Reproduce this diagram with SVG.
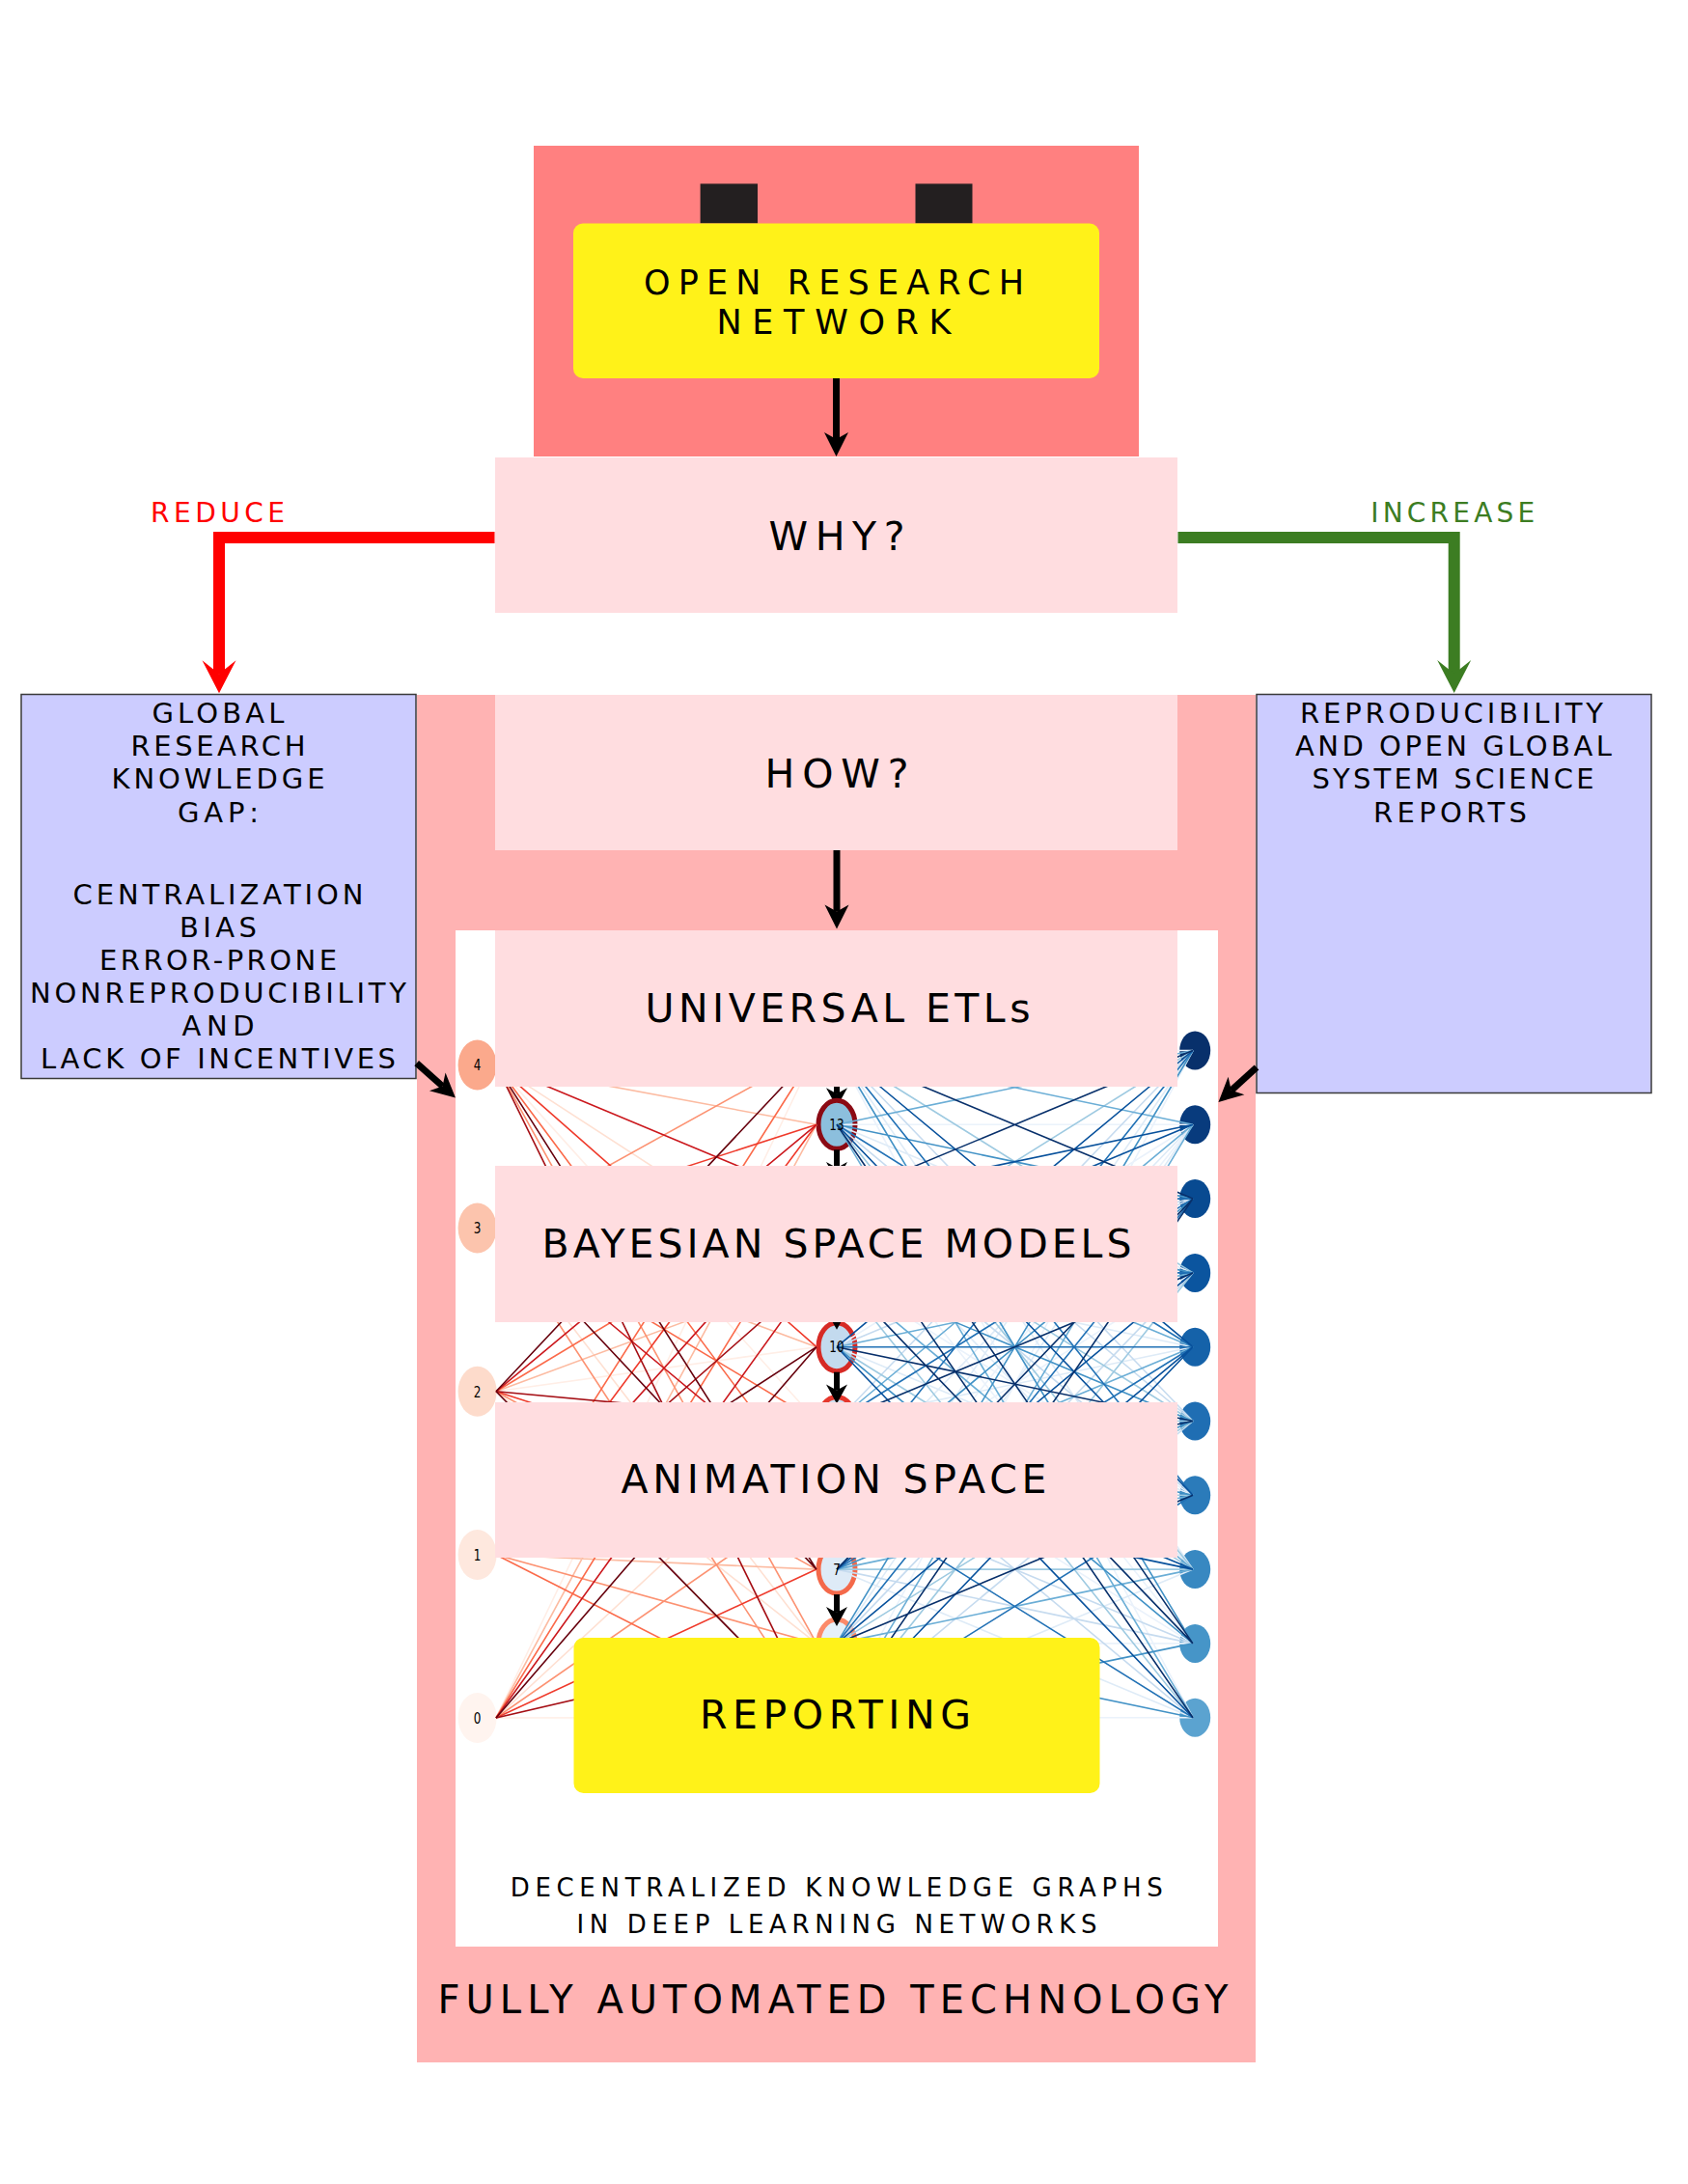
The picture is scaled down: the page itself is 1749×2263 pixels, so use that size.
<svg xmlns="http://www.w3.org/2000/svg" width="1749" height="2263" viewBox="0 0 1749 2263">
<style>
.t{font-family:"DejaVu Sans","Liberation Sans",sans-serif;fill:#000;text-anchor:middle}
.b41{font-size:41px}
.b29{font-size:29px}
.b26{font-size:26px}
.lbl{font-size:12px}
.pinkbox{fill:#FFDDE0}
.yellow{fill:#FFF219}
.bluebox{fill:#CCCCFF;stroke:#3a3a3a;stroke-width:1.5}
.arr{fill:none;stroke:#000;stroke-width:7}
.chain{fill:none;stroke:#000;stroke-width:6}
.e{fill:none;stroke-width:1.6}
</style>
<defs>
<marker id="ahBlack" markerUnits="userSpaceOnUse" markerWidth="40" markerHeight="40" viewBox="-20 -20 40 40" refX="0" refY="0" orient="auto" overflow="visible"><path d="M-7,-12.5 L18,0 L-7,12.5 L0,0 Z" fill="#000"/></marker>
<marker id="ahSmall" markerUnits="userSpaceOnUse" markerWidth="40" markerHeight="40" viewBox="-20 -20 40 40" refX="0" refY="0" orient="auto" overflow="visible"><path d="M-6,-11 L14,0 L-6,11 L0,0 Z" fill="#000"/></marker>
<marker id="ahRed" markerUnits="userSpaceOnUse" markerWidth="50" markerHeight="50" viewBox="-25 -25 50 50" refX="0" refY="0" orient="auto" overflow="visible"><path d="M-14,-17.5 L20,0 L-14,17.5 L0,0 Z" fill="#FF0000"/></marker>
<marker id="ahGreen" markerUnits="userSpaceOnUse" markerWidth="50" markerHeight="50" viewBox="-25 -25 50 50" refX="0" refY="0" orient="auto" overflow="visible"><path d="M-14,-17.5 L20,0 L-14,17.5 L0,0 Z" fill="#3C7D22"/></marker>
</defs>
<rect x="0" y="0" width="1749" height="2263" fill="#fff"/>

<g id="open-research-network">
<rect x="553" y="151" width="627" height="322" fill="#FF8080"/>
<rect x="725.6" y="190.4" width="59.4" height="41" fill="#231F20"/>
<rect x="948.5" y="190.4" width="59" height="41" fill="#231F20"/>
<rect x="594" y="231.5" width="545" height="160.5" rx="10" class="yellow"/>
<text class="t" style="font-size:35px" x="864" y="304.5" textLength="394" lengthAdjust="spacing">OPEN RESEARCH</text>
<text class="t" style="font-size:35px" x="864" y="346" textLength="243" lengthAdjust="spacing">NETWORK</text>
</g>

<g id="why">
<rect x="513" y="474" width="707" height="161" class="pinkbox"/>
<text class="t b41" x="867" y="569.5" textLength="141" lengthAdjust="spacing">WHY?</text>
</g>

<g id="fully-automated-technology">
<rect x="432" y="720" width="869" height="1417" fill="#FFB3B3"/>
<rect x="472" y="964" width="790" height="1053" fill="#fff"/>
<text class="t" style="font-size:40px" x="863" y="2086" textLength="819" lengthAdjust="spacing">FULLY AUTOMATED TECHNOLOGY</text>
</g>

<g id="how">
<rect x="513" y="720" width="707" height="161" class="pinkbox"/>
<text class="t b41" x="867" y="815.5" textLength="149" lengthAdjust="spacing">HOW?</text>
</g>

<g id="network">
<path class="chain" marker-end="url(#ahSmall)" d="M867 1114.5V1133.3"/>
<g id="network-nodes">
<ellipse cx="494.6" cy="1780" rx="20" ry="26" fill="#FFF4EF"/>
<ellipse cx="494.6" cy="1611" rx="20" ry="26" fill="#FEE8DE"/>
<ellipse cx="494.6" cy="1441.8" rx="20" ry="26" fill="#FDDBCB"/>
<ellipse cx="494.6" cy="1272.5" rx="20" ry="26" fill="#FCC4AD"/>
<ellipse cx="494.6" cy="1103.6" rx="20" ry="26" fill="#FBA98C"/>
<g stroke-width="5">
<ellipse cx="867" cy="1779.7" rx="19" ry="25" fill="#EDF4FB" stroke="#FCA487"/>
<ellipse cx="867" cy="1702.9" rx="19" ry="25" fill="#E6F0F9" stroke="#FC8A6A"/>
<ellipse cx="867" cy="1626.1" rx="19" ry="25" fill="#DEEBF7" stroke="#F4694A"/>
<ellipse cx="867" cy="1549.3" rx="19" ry="25" fill="#D6E5F4" stroke="#F0502F"/>
<ellipse cx="867" cy="1472.5" rx="19" ry="25" fill="#CDE0F1" stroke="#E6372C"/>
<ellipse cx="867" cy="1395.7" rx="19" ry="25" fill="#C3DAEE" stroke="#D62A25"/>
<ellipse cx="867" cy="1318.9" rx="19" ry="25" fill="#B0D2E8" stroke="#C4161C"/>
<ellipse cx="867" cy="1242.1" rx="19" ry="25" fill="#A0CBE2" stroke="#A91016"/>
<ellipse cx="867" cy="1165.3" rx="19" ry="25" fill="#8CBFDD" stroke="#8B0A14"/>
<ellipse cx="867" cy="1088.5" rx="19" ry="25" fill="#7FB9DA" stroke="#67000D"/>
</g>
<ellipse cx="1238.2" cy="1088.5" rx="16" ry="20" fill="#08306B"/>
<ellipse cx="1238.2" cy="1165.3" rx="16" ry="20" fill="#083B7D"/>
<ellipse cx="1238.2" cy="1242.1" rx="16" ry="20" fill="#084A91"/>
<ellipse cx="1238.2" cy="1318.9" rx="16" ry="20" fill="#0B559F"/>
<ellipse cx="1238.2" cy="1395.7" rx="16" ry="20" fill="#1562A9"/>
<ellipse cx="1238.2" cy="1472.5" rx="16" ry="20" fill="#1F6EB3"/>
<ellipse cx="1238.2" cy="1549.3" rx="16" ry="20" fill="#2B7BBA"/>
<ellipse cx="1238.2" cy="1626.1" rx="16" ry="20" fill="#3888C1"/>
<ellipse cx="1238.2" cy="1702.9" rx="16" ry="20" fill="#4695C8"/>
<ellipse cx="1238.2" cy="1779.7" rx="16" ry="20" fill="#5BA3D0"/>
</g>
<g id="network-edges">
<path class="e" stroke="#FFEEE6" d="M514 1780L846 1779.7M514 1780L846 1088.5M514 1611L846 1472.5M514 1441.8L846 1395.7M514 1272.5L846 1318.9M514 1103.6L846 1472.5"/>
<path class="e" stroke="#FEE0D2" d="M514 1780L846 1472.5M514 1611L846 1549.3M514 1441.8L846 1702.9M514 1272.5L846 1702.9M514 1103.6L846 1318.9"/>
<path class="e" stroke="#FCBBA1" d="M514 1780L846 1165.3M514 1611L846 1626.1M514 1441.8L846 1318.9M514 1272.5L846 1395.7M514 1103.6L846 1165.3"/>
<path class="e" stroke="#FC9272" d="M514 1780L846 1549.3M514 1611L846 1702.9M514 1441.8L846 1626.1M514 1272.5L846 1779.7M514 1272.5L846 1088.5M514 1103.6L846 1702.9"/>
<path class="e" stroke="#FB6A4A" d="M514 1780L846 1242.1M514 1611L846 1779.7M514 1611L846 1088.5M514 1441.8L846 1242.1M514 1272.5L846 1472.5M514 1103.6L846 1549.3"/>
<path class="e" stroke="#EF3B2C" d="M514 1780L846 1626.1M514 1611L846 1165.3M514 1441.8L846 1549.3M514 1272.5L846 1165.3M514 1103.6L846 1395.7"/>
<path class="e" stroke="#CB181D" d="M514 1780L846 1318.9M514 1611L846 1242.1M514 1441.8L846 1165.3M514 1272.5L846 1549.3M514 1103.6L846 1242.1"/>
<path class="e" stroke="#A50F15" d="M514 1780L846 1702.9M514 1611L846 1318.9M514 1441.8L846 1472.5M514 1272.5L846 1242.1M514 1103.6L846 1779.7M514 1103.6L846 1088.5"/>
<path class="e" stroke="#67000D" d="M514 1780L846 1395.7M514 1611L846 1395.7M514 1441.8L846 1779.7M514 1441.8L846 1088.5M514 1272.5L846 1626.1M514 1103.6L846 1626.1"/>
<path class="e" stroke="#EAF2FB" d="M867 1779.7L1236 1088.5M867 1779.7L1236 1779.7M867 1702.9L1236 1702.9M867 1626.1L1236 1165.3M867 1549.3L1236 1318.9M867 1472.5L1236 1702.9M867 1395.7L1236 1165.3M867 1318.9L1236 1549.3M867 1242.1L1236 1702.9M867 1165.3L1236 1165.3M867 1088.5L1236 1088.5M867 1088.5L1236 1779.7"/>
<path class="e" stroke="#DEEBF7" d="M867 1779.7L1236 1626.1M867 1702.9L1236 1165.3M867 1626.1L1236 1088.5M867 1626.1L1236 1779.7M867 1549.3L1236 1165.3M867 1472.5L1236 1395.7M867 1395.7L1236 1549.3M867 1318.9L1236 1395.7M867 1242.1L1236 1626.1M867 1165.3L1236 1318.9M867 1088.5L1236 1626.1"/>
<path class="e" stroke="#C6DBEF" d="M867 1779.7L1236 1472.5M867 1702.9L1236 1318.9M867 1626.1L1236 1702.9M867 1549.3L1236 1702.9M867 1472.5L1236 1088.5M867 1472.5L1236 1779.7M867 1395.7L1236 1242.1M867 1318.9L1236 1242.1M867 1242.1L1236 1549.3M867 1165.3L1236 1472.5M867 1088.5L1236 1472.5"/>
<path class="e" stroke="#9ECAE1" d="M867 1779.7L1236 1318.9M867 1702.9L1236 1472.5M867 1626.1L1236 1626.1M867 1549.3L1236 1549.3M867 1472.5L1236 1472.5M867 1395.7L1236 1626.1M867 1318.9L1236 1088.5M867 1318.9L1236 1779.7M867 1242.1L1236 1472.5M867 1165.3L1236 1626.1M867 1088.5L1236 1318.9"/>
<path class="e" stroke="#6BAED6" d="M867 1779.7L1236 1165.3M867 1702.9L1236 1626.1M867 1626.1L1236 1549.3M867 1549.3L1236 1395.7M867 1472.5L1236 1165.3M867 1395.7L1236 1318.9M867 1318.9L1236 1626.1M867 1242.1L1236 1395.7M867 1165.3L1236 1088.5M867 1165.3L1236 1779.7M867 1088.5L1236 1165.3"/>
<path class="e" stroke="#4292C6" d="M867 1779.7L1236 1702.9M867 1702.9L1236 1088.5M867 1702.9L1236 1779.7M867 1626.1L1236 1472.5M867 1549.3L1236 1242.1M867 1472.5L1236 1549.3M867 1395.7L1236 1702.9M867 1318.9L1236 1472.5M867 1242.1L1236 1318.9M867 1165.3L1236 1242.1M867 1088.5L1236 1702.9"/>
<path class="e" stroke="#2171B5" d="M867 1779.7L1236 1549.3M867 1702.9L1236 1242.1M867 1626.1L1236 1395.7M867 1549.3L1236 1088.5M867 1549.3L1236 1779.7M867 1472.5L1236 1242.1M867 1395.7L1236 1395.7M867 1318.9L1236 1318.9M867 1242.1L1236 1242.1M867 1165.3L1236 1395.7M867 1088.5L1236 1549.3"/>
<path class="e" stroke="#08519C" d="M867 1779.7L1236 1395.7M867 1702.9L1236 1395.7M867 1626.1L1236 1318.9M867 1549.3L1236 1626.1M867 1472.5L1236 1626.1M867 1395.7L1236 1088.5M867 1395.7L1236 1779.7M867 1318.9L1236 1165.3M867 1242.1L1236 1165.3M867 1165.3L1236 1549.3M867 1088.5L1236 1395.7"/>
<path class="e" stroke="#08306B" d="M867 1779.7L1236 1242.1M867 1702.9L1236 1549.3M867 1626.1L1236 1242.1M867 1549.3L1236 1472.5M867 1472.5L1236 1318.9M867 1395.7L1236 1472.5M867 1318.9L1236 1702.9M867 1242.1L1236 1088.5M867 1242.1L1236 1779.7M867 1165.3L1236 1702.9M867 1088.5L1236 1242.1"/>
<g id="network-chain">
<path class="chain" marker-end="url(#ahSmall)" d="M867 1191.3V1210.1"/>
<path class="chain" marker-end="url(#ahSmall)" d="M867 1268.1V1286.9"/>
<path class="chain" marker-end="url(#ahSmall)" d="M867 1344.9V1363.7"/>
<path class="chain" marker-end="url(#ahSmall)" d="M867 1421.7V1440.5"/>
<path class="chain" marker-end="url(#ahSmall)" d="M867 1498.5V1517.3"/>
<path class="chain" marker-end="url(#ahSmall)" d="M867 1575.3V1594.1"/>
<path class="chain" marker-end="url(#ahSmall)" d="M867 1652.1V1670.9"/>
<path class="chain" marker-end="url(#ahSmall)" d="M867 1728.9V1747.7"/>
</g>
</g>
<g id="network-labels">
<text class="t lbl" transform="translate(494.6,1780) scale(1,1.3)" y="4.4">0</text>
<text class="t lbl" transform="translate(494.6,1611) scale(1,1.3)" y="4.4">1</text>
<text class="t lbl" transform="translate(494.6,1441.8) scale(1,1.3)" y="4.4">2</text>
<text class="t lbl" transform="translate(494.6,1272.5) scale(1,1.3)" y="4.4">3</text>
<text class="t lbl" transform="translate(494.6,1103.6) scale(1,1.3)" y="4.4">4</text>
<text class="t lbl" transform="translate(867,1165.3) scale(1,1.3)" y="4.4">13</text>
<text class="t lbl" transform="translate(867,1395.7) scale(1,1.3)" y="4.4">10</text>
<text class="t lbl" transform="translate(867,1626.1) scale(1,1.3)" y="4.4">7</text>
</g>
</g>

<g id="universal-etls">
<rect x="513" y="964" width="707" height="162" class="pinkbox"/>
<text class="t b41" x="868" y="1059" textLength="399" lengthAdjust="spacing">UNIVERSAL ETLs</text>
</g>
<g id="bayesian-space-models">
<rect x="513" y="1208" width="707" height="162" class="pinkbox"/>
<text class="t b41" x="867" y="1303" textLength="611" lengthAdjust="spacing">BAYESIAN SPACE MODELS</text>
</g>
<g id="animation-space">
<rect x="513" y="1453" width="707" height="161" class="pinkbox"/>
<text class="t b41" x="864" y="1547" textLength="441" lengthAdjust="spacing">ANIMATION SPACE</text>
</g>
<g id="reporting">
<rect x="594.5" y="1697" width="545" height="161" rx="10" class="yellow"/>
<text class="t b41" x="865.5" y="1791" textLength="281" lengthAdjust="spacing">REPORTING</text>
</g>
<g id="decentralized-caption">
<text class="t b26" x="866.7" y="1965" textLength="676" lengthAdjust="spacing">DECENTRALIZED KNOWLEDGE GRAPHS</text>
<text class="t b26" x="867" y="2003.3" textLength="539" lengthAdjust="spacing">IN DEEP LEARNING NETWORKS</text>
</g>

<g id="knowledge-gap">
<rect x="22" y="719.5" width="409" height="398" class="bluebox"/>
<text class="t b29" x="226" y="749.3" textLength="137" lengthAdjust="spacing">GLOBAL</text>
<text class="t b29" x="226" y="783.3" textLength="181" lengthAdjust="spacing">RESEARCH</text>
<text class="t b29" x="226" y="817.3" textLength="221" lengthAdjust="spacing">KNOWLEDGE</text>
<text class="t b29" x="226" y="851.7" textLength="84" lengthAdjust="spacing">GAP:</text>
<text class="t b29" x="226" y="937.3" textLength="301" lengthAdjust="spacing">CENTRALIZATION</text>
<text class="t b29" x="226" y="970.7" textLength="80" lengthAdjust="spacing">BIAS</text>
<text class="t b29" x="226" y="1005" textLength="246" lengthAdjust="spacing">ERROR-PRONE</text>
<text class="t b29" x="226" y="1039.3" textLength="390" lengthAdjust="spacing">NONREPRODUCIBILITY</text>
<text class="t b29" x="226" y="1073.3" textLength="75" lengthAdjust="spacing">AND</text>
<text class="t b29" x="226" y="1107.3" textLength="368" lengthAdjust="spacing">LACK OF INCENTIVES</text>
</g>

<g id="reproducibility">
<rect x="1302" y="719.5" width="409" height="413" class="bluebox"/>
<text class="t b29" x="1504" y="749.3" textLength="314" lengthAdjust="spacing">REPRODUCIBILITY</text>
<text class="t b29" x="1506" y="783.3" textLength="328" lengthAdjust="spacing">AND OPEN GLOBAL</text>
<text class="t b29" x="1505.5" y="817.3" textLength="292" lengthAdjust="spacing">SYSTEM SCIENCE</text>
<text class="t b29" x="1502.5" y="851.7" textLength="159" lengthAdjust="spacing">REPORTS</text>
</g>

<g id="connectors">
<path class="arr" marker-end="url(#ahBlack)" d="M866.5 392V455"/>
<path class="arr" marker-end="url(#ahBlack)" d="M867 881V944.5"/>
<path fill="none" stroke="#FF0000" stroke-width="12" marker-end="url(#ahRed)" d="M512.5 557H227V698.3"/>
<path fill="none" stroke="#3C7D22" stroke-width="12" marker-end="url(#ahGreen)" d="M1220.5 557H1506.7V698"/>
<path class="arr" marker-end="url(#ahBlack)" d="M431.7 1101.7L458.5 1125.5"/>
<path class="arr" marker-end="url(#ahBlack)" d="M1302 1106L1275.8 1129.8"/>
<text class="t" style="font-size:28px;fill:#FF0000" x="225.5" y="541" textLength="139" lengthAdjust="spacing">REDUCE</text>
<text class="t" style="font-size:28px;fill:#3C7D22" x="1505.2" y="541" textLength="170" lengthAdjust="spacing">INCREASE</text>
</g>
</svg>
